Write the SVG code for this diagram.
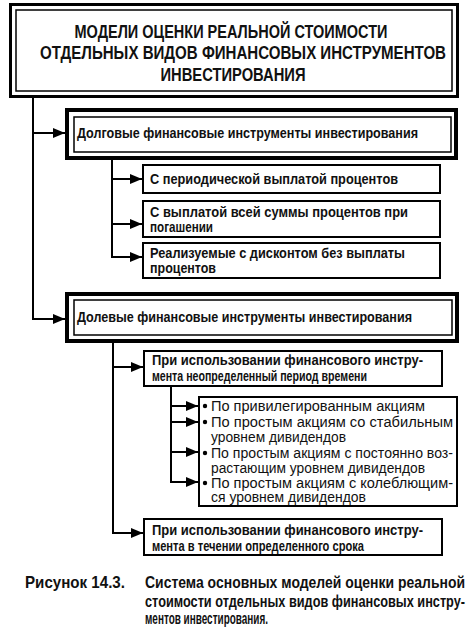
<svg xmlns="http://www.w3.org/2000/svg" width="473" height="627" viewBox="0 0 473 627">
<style>
.bg{fill:#fff}
.thick{fill:none;stroke:#000;stroke-width:4}
.tthick{fill:none;stroke:#000;stroke-width:3}
.thin{fill:none;stroke:#000;stroke-width:1.5}
.box{fill:#fff;stroke:#000;stroke-width:2}
.t{font-family:"Liberation Sans",Arial,sans-serif;font-weight:bold;fill:#111}
.h{font-size:18px}
.b{font-size:14px}
.r{font-family:"Liberation Sans",Arial,sans-serif;font-size:14px;fill:#111}
.c{font-size:16px}
.con{fill:none;stroke:#000;stroke-width:2}
</style>
<defs>
<marker id="ah" markerUnits="userSpaceOnUse" markerWidth="12" markerHeight="10" refX="12" refY="5" orient="auto">
<path d="M0,0 L12,5 L0,10 z" fill="#000"/>
</marker>
</defs>
<rect class="bg" x="0" y="0" width="473" height="627"/>

<g id="title">
<rect class="tthick" x="10.5" y="4.5" width="447" height="92"/>
<rect class="thin" x="16" y="10" width="436" height="81"/>
<g transform="scale(0.87,1)">
<text class="t h" x="265.5" y="38" text-anchor="middle" textLength="359.8" lengthAdjust="spacingAndGlyphs">МОДЕЛИ ОЦЕНКИ РЕАЛЬНОЙ СТОИМОСТИ</text>
<text class="t h" x="279.3" y="59" text-anchor="middle" textLength="466.7" lengthAdjust="spacingAndGlyphs">ОТДЕЛЬНЫХ ВИДОВ ФИНАНСОВЫХ ИНСТРУМЕНТОВ</text>
<text class="t h" x="267.8" y="81" text-anchor="middle" textLength="166.7" lengthAdjust="spacingAndGlyphs">ИНВЕСТИРОВАНИЯ</text>
</g>
</g>

<g id="connectors">
<path class="con" d="M33,97 V319 H65" marker-end="url(#ah)"/>
<path class="con" d="M33,133 H65" marker-end="url(#ah)"/>
<path class="con" d="M112,159 V257 H142" marker-end="url(#ah)"/>
<path class="con" d="M112,179 H142" marker-end="url(#ah)"/>
<path class="con" d="M112,224 H142" marker-end="url(#ah)"/>
<path class="con" d="M113,342 V533 H143" marker-end="url(#ah)"/>
<path class="con" d="M113,367 H143" marker-end="url(#ah)"/>
<path class="con" d="M171,386 V482 H198" marker-end="url(#ah)"/>
<path class="con" d="M171,406 H198" marker-end="url(#ah)"/>
<path class="con" d="M171,422 H198" marker-end="url(#ah)"/>
<path class="con" d="M171,452 H198" marker-end="url(#ah)"/>
</g>

<g id="debt">
<rect class="thick" x="67" y="110" width="389" height="48"/>
<rect class="thin" x="74" y="117" width="377" height="35"/>
<text class="t b" transform="scale(0.93,1)" x="82.8" y="138.5" textLength="366.7" lengthAdjust="spacingAndGlyphs">Долговые финансовые инструменты инвестирования</text>
</g>

<g id="debt-periodic">
<rect class="box" x="143" y="165" width="297" height="28"/>
<text class="t b" transform="scale(0.93,1)" x="161.3" y="184" textLength="266.7" lengthAdjust="spacingAndGlyphs">С периодической выплатой процентов</text>
</g>

<g id="debt-maturity">
<rect class="box" x="143" y="201" width="297" height="36"/>
<g transform="scale(0.93,1)">
<text class="t b" x="161.3" y="217" textLength="277.4" lengthAdjust="spacingAndGlyphs">С выплатой всей суммы процентов при</text>
<text class="t b" x="161.3" y="232" textLength="67.7" lengthAdjust="spacingAndGlyphs">погашении</text>
</g>
</g>

<g id="debt-discount">
<rect class="box" x="143" y="243" width="297" height="35"/>
<g transform="scale(0.93,1)">
<text class="t b" x="161.3" y="258.5" textLength="274.2" lengthAdjust="spacingAndGlyphs">Реализуемые с дисконтом без выплаты</text>
<text class="t b" x="161.3" y="273.5" textLength="71" lengthAdjust="spacingAndGlyphs">процентов</text>
</g>
</g>

<g id="equity">
<rect class="thick" x="67" y="294" width="390" height="47"/>
<rect class="thin" x="74" y="300" width="378" height="35"/>
<text class="t b" transform="scale(0.93,1)" x="82.8" y="322.5" textLength="360.2" lengthAdjust="spacingAndGlyphs">Долевые финансовые инструменты инвестирования</text>
</g>

<g id="equity-indefinite">
<rect class="box" x="144" y="351" width="298" height="35"/>
<g transform="scale(0.93,1)">
<text class="t b" x="163.4" y="365.5" textLength="291.4" lengthAdjust="spacingAndGlyphs">При использовании финансового инстру-</text>
<text class="t b" x="163.4" y="381" textLength="231.2" lengthAdjust="spacingAndGlyphs">мента неопределенный период времени</text>
</g>
</g>

<g id="equity-stocks">
<rect class="box" x="199" y="397" width="258" height="109"/>
<circle cx="205" cy="406" r="2.2" fill="#000"/>
<circle cx="205" cy="422" r="2.2" fill="#000"/>
<circle cx="205" cy="453" r="2.2" fill="#000"/>
<circle cx="205" cy="483" r="2.2" fill="#000"/>
<text class="r" x="211" y="410.5" textLength="214" lengthAdjust="spacingAndGlyphs">По привилегированным акциям</text>
<text class="r" x="211" y="426.5" textLength="242" lengthAdjust="spacingAndGlyphs">По простым акциям со стабильным</text>
<text class="r" x="211" y="441.5" textLength="135" lengthAdjust="spacingAndGlyphs">уровнем дивидендов</text>
<text class="r" x="211" y="457.5" textLength="242" lengthAdjust="spacingAndGlyphs">По простым акциям с постоянно воз-</text>
<text class="r" x="211" y="472.5" textLength="214" lengthAdjust="spacingAndGlyphs">растающим уровнем дивидендов</text>
<text class="r" x="211" y="487.5" textLength="242" lengthAdjust="spacingAndGlyphs">По простым акциям с колеблющим-</text>
<text class="r" x="211" y="502" textLength="155" lengthAdjust="spacingAndGlyphs">ся уровнем дивидендов</text>
</g>

<g id="equity-term">
<rect class="box" x="144" y="519" width="298" height="36"/>
<g transform="scale(0.93,1)">
<text class="t b" x="163.4" y="535.5" textLength="291.4" lengthAdjust="spacingAndGlyphs">При использовании финансового инстру-</text>
<text class="t b" x="163.4" y="551" textLength="228" lengthAdjust="spacingAndGlyphs">мента в течении определенного срока</text>
</g>
</g>

<g id="caption">
<g transform="scale(0.78,1)">
<text class="t c" x="32.05" y="588" textLength="128.2" lengthAdjust="spacingAndGlyphs">Рисунок 14.3.</text>
<text class="t c" x="185.9" y="588" textLength="410.3" lengthAdjust="spacingAndGlyphs">Система основных моделей оценки реальной</text>
<text class="t c" x="185.9" y="607" textLength="410.3" lengthAdjust="spacingAndGlyphs">стоимости отдельных видов финансовых инстру-</text>
<text class="t c" x="185.9" y="624" textLength="157.7" lengthAdjust="spacingAndGlyphs">ментов инвестирования.</text>
</g>
</g>
</svg>
